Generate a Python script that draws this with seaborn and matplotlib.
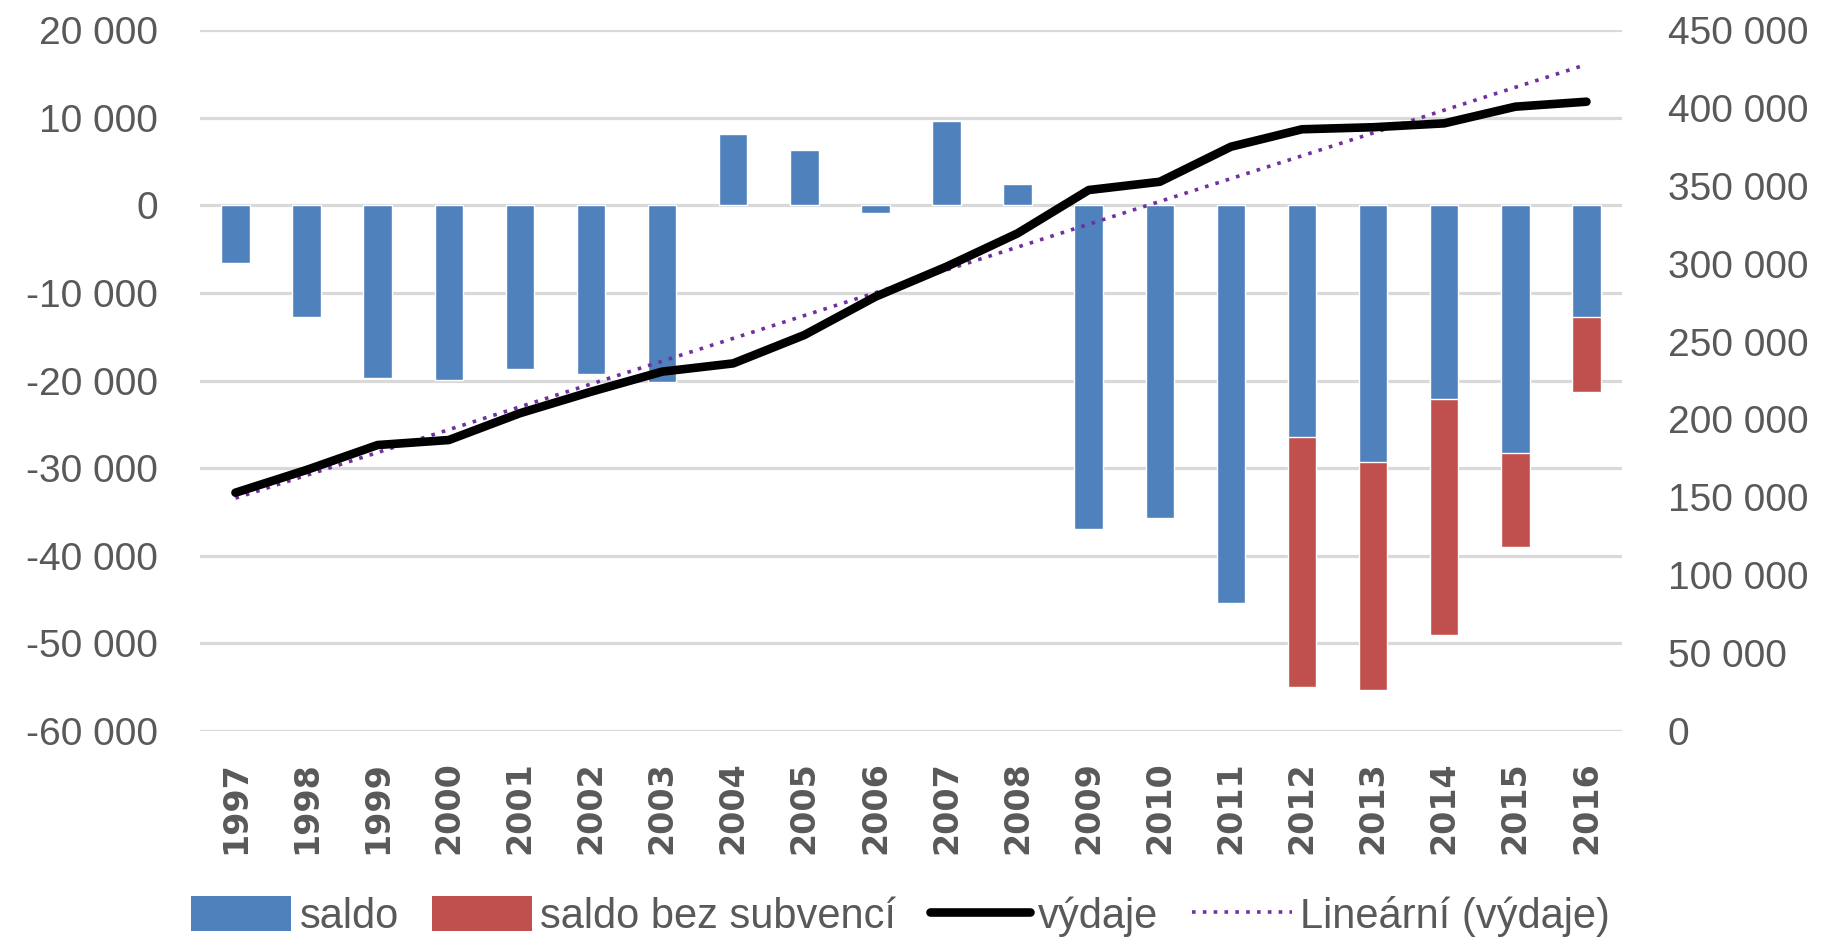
import numpy as np
import pandas as pd
import matplotlib
matplotlib.use("Agg")
import matplotlib.pyplot as plt
from matplotlib.patches import Patch
from matplotlib.lines import Line2D
from matplotlib.ticker import FuncFormatter, MultipleLocator
import seaborn as sns

years = [str(y) for y in range(1997, 2017)]
saldo = [-6600, -12800, -19700, -19900, -18700, -19200, -20200, 8100, 6300, -900,
         9600, 2400, -36900, -35700, -45400, -26400, -29300, -22100, -28300, -12800]
saldo_bez_subvenci = [np.nan] * 15 + [-55000, -55300, -49000, -39000, -21300]
vydaje = [153000, 167600, 183600, 186800, 204000, 217800, 230700, 236000, 254200, 278800,
          298100, 319500, 347300, 352600, 375100, 386300, 387600, 390100, 400800, 404000]
legend_labels = ["saldo", "saldo bez subvencí", "výdaje", "Lineární (výdaje)"]

BLUE = "#4F81BD"
RED = "#C0504D"
PURPLE = "#7030A0"
GRAY = "#595959"
GRID = "#D9D9D9"

sns.set_theme(style="white")
plt.rcParams["font.family"] = ["Liberation Sans Narrow", "Liberation Sans", "DejaVu Sans"]

df = pd.DataFrame({"rok": years, "saldo": saldo, "bez": saldo_bez_subvenci, "vydaje": vydaje})
idx = np.arange(len(years))

fig = plt.figure(figsize=(18.34, 9.39), dpi=100)
ax = fig.add_axes([0.109, 0.2215, 0.7754, 0.7465])

sns.barplot(data=df, x="rok", y="bez", color=RED, saturation=1, width=0.4,
            errorbar=None, ax=ax, zorder=2)
sns.barplot(data=df, x="rok", y="saldo", color=BLUE, saturation=1, width=0.4,
            errorbar=None, ax=ax, zorder=3)

ax.set_xlim(-0.5, len(years) - 0.5)
ax.set_ylim(-60000, 20000)
ax.yaxis.set_major_locator(MultipleLocator(10000))
fmt = FuncFormatter(lambda v, p: f"{v:,.0f}".replace(",", " "))
ax.yaxis.set_major_formatter(fmt)
ax.grid(axis="y", color=GRID, linewidth=2.3, zorder=0)
ax.grid(axis="x", visible=False)
ax.set_axisbelow(True)
ax.set_xlabel("")
ax.set_ylabel("")
for s in ax.spines.values():
    s.set_visible(False)
ax.tick_params(axis="y", length=0, pad=30, labelsize=28, labelcolor=GRAY)
ax.tick_params(axis="x", length=0, pad=22, labelcolor=GRAY)
for lab in ax.get_xticklabels():
    lab.set_rotation(90)
    lab.set_fontfamily("DejaVu Sans")
    lab.set_fontweight("bold")
    lab.set_fontsize(24)

ax2 = ax.twinx()
coef = np.polyfit(idx, vydaje, 1)
trend = np.polyval(coef, idx)
sns.lineplot(x=idx, y=trend, ax=ax2, color=PURPLE, linewidth=2.6,
             linestyle=(0, (1, 2)), zorder=4)
sns.lineplot(x=idx, y=vydaje, ax=ax2, color="black", linewidth=6.2, zorder=5,
             solid_capstyle="round", solid_joinstyle="round")
ax2.set_ylim(0, 450000)
ax2.yaxis.set_major_locator(MultipleLocator(50000))
ax2.yaxis.set_major_formatter(fmt)
ax2.grid(False)
ax2.set_ylabel("")
for s in ax2.spines.values():
    s.set_visible(False)
ax2.tick_params(axis="y", length=0, pad=33, labelsize=28, labelcolor=GRAY)
ax2.set_xlim(-0.5, len(years) - 0.5)

handles = [
    Patch(facecolor=BLUE, edgecolor="none"),
    Patch(facecolor=RED, edgecolor="none"),
    Line2D([], [], color="black", linewidth=6.2),
    Line2D([], [], color=PURPLE, linewidth=2.6, linestyle=(0, (1, 2))),
]
fig.legend(handles, legend_labels, loc="center", bbox_to_anchor=(0.491, 0.024),
           ncol=4, frameon=False, fontsize=30, labelcolor=GRAY,
           handlelength=2.4, handleheight=0.9, handletextpad=0.2, columnspacing=0.8)

fig.savefig("out.png", dpi=100)
